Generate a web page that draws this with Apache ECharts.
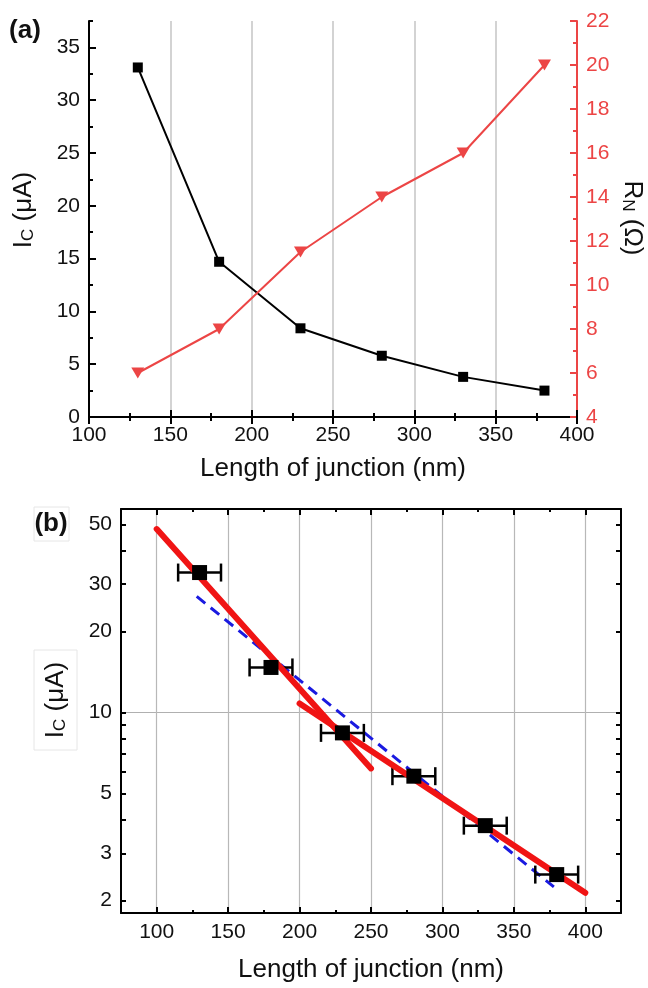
<!DOCTYPE html>
<html><head><meta charset="utf-8">
<script src="https://cdn.jsdelivr.net/npm/echarts@6/dist/echarts.min.js"></script>
<style>html,body{margin:0;padding:0;background:#fff}#c{width:648px;height:988px}</style>
</head><body><div id="c"></div>
<script>
// ---- data ----
const lengths = [130, 180, 230, 280, 330, 380];
const icValues = [33.1, 14.7, 8.4, 5.8, 3.8, 2.5];
const rnValues = [6, 8, 11.5, 14, 16, 20];
const lengthErr = [15, 15, 15, 15, 15, 15];
const fitShortX = [100, 250], fitShortY = [48, 6.2];
const fitLongX = [200, 400], fitLongY = [10.8, 2.14];
const fitDashX = [128, 378], fitDashY = [27, 2.25];
// ---- tick labels ----
const icTicksTop = [0, 5, 10, 15, 20, 25, 30, 35];
const icMinorTop = [2.5, 7.5, 12.5, 17.5, 22.5, 27.5, 32.5, 37.5];
const xTicksBottom = [100, 150, 200, 250, 300, 350, 400];
const xMinorBottom = [125, 175, 225, 275, 325, 375];
const logLabels = [2, 3, 5, 10, 20, 30, 50];
const logTicks = [2, 3, 4, 5, 6, 7, 8, 9, 10, 20, 30, 40, 50];
const logGrid = [10];

const FONT = "'Liberation Sans', Arial, sans-serif";
const RED = '#ec4545';
const zip = (a, b) => a.map((v, i) => [v, b[i]]);

const chart = echarts.init(document.getElementById('c'), null, {renderer: 'canvas'});
const blackLine = {show: true, lineStyle: {color: '#000', width: 2}};
const lbl = {fontFamily: FONT, fontSize: 21, color: '#111'};

const option = {
  backgroundColor: '#fff',
  animation: false,
  grid: [
    {left: 89, top: 21, width: 488, height: 396, show: false},
    {left: 121, top: 509, width: 500, height: 404, show: false}
  ],
  xAxis: [
    {gridIndex: 0, type: 'value', min: 100, max: 400, interval: 50, position: 'bottom',
     axisLine: blackLine, axisTick: {inside: true, length: 7, lineStyle: {color: '#000', width: 2}},
     minorTick: {show: true, splitNumber: 2, length: 4, lineStyle: {color: '#000', width: 2}},
     axisLabel: Object.assign({margin: 8}, lbl),
     splitLine: {show: true, lineStyle: {color: '#c4c4c4', width: 1.5}}},
    {gridIndex: 0, type: 'value', min: 100, max: 400, interval: 50, position: 'top',
     axisLine: blackLine, axisTick: {inside: true, length: 7, lineStyle: {color: '#000', width: 2}},
     minorTick: {show: true, splitNumber: 2, length: 4, lineStyle: {color: '#000', width: 2}},
     axisLabel: {show: false}, splitLine: {show: false}},
    {gridIndex: 1, type: 'value', min: 75, max: 425, position: 'bottom',
     axisLine: blackLine,
     axisTick: {inside: true, length: 6, customValues: xTicksBottom, lineStyle: {color: '#000', width: 2}},
     axisLabel: Object.assign({margin: 9, customValues: xTicksBottom}, lbl),
     splitLine: {show: true, lineStyle: {color: '#b8b8b8', width: 1.2}}},
    {gridIndex: 1, type: 'value', min: 75, max: 425, position: 'bottom',
     axisLine: {show: false},
     axisTick: {inside: true, length: 3, customValues: xMinorBottom, lineStyle: {color: '#000', width: 2}},
     axisLabel: {show: false}, splitLine: {show: false}},
    {gridIndex: 1, type: 'value', min: 75, max: 425, position: 'top',
     axisLine: blackLine,
     axisTick: {inside: true, length: 6, customValues: xTicksBottom, lineStyle: {color: '#000', width: 2}},
     axisLabel: {show: false}, splitLine: {show: false}},
    {gridIndex: 1, type: 'value', min: 75, max: 425, position: 'top',
     axisLine: {show: false},
     axisTick: {inside: true, length: 3, customValues: xMinorBottom, lineStyle: {color: '#000', width: 2}},
     axisLabel: {show: false}, splitLine: {show: false}}
  ],
  yAxis: [
    {gridIndex: 0, type: 'value', min: 0, max: 37.5, position: 'left',
     axisLine: blackLine,
     axisTick: {inside: true, length: 7, customValues: icTicksTop, lineStyle: {color: '#000', width: 2}},
     axisLabel: Object.assign({margin: 9, customValues: icTicksTop}, lbl),
     splitLine: {show: false}},
    {gridIndex: 0, type: 'value', min: 0, max: 37.5, position: 'left',
     axisLine: {show: false},
     axisTick: {inside: true, length: 4, customValues: icMinorTop, lineStyle: {color: '#000', width: 2}},
     axisLabel: {show: false}, splitLine: {show: false}},
    {gridIndex: 0, type: 'value', min: 4, max: 22, interval: 2, position: 'right',
     axisLine: {show: true, lineStyle: {color: RED, width: 2}},
     axisTick: {inside: true, length: 7, lineStyle: {color: RED, width: 2}},
     minorTick: {show: true, splitNumber: 2, length: 4, lineStyle: {color: RED, width: 2}},
     axisLabel: {margin: 9, fontFamily: FONT, fontSize: 21, color: RED},
     splitLine: {show: false}},
    {gridIndex: 1, type: 'log', logBase: 10, min: 1.8, max: 57, position: 'left',
     axisLine: blackLine,
     axisTick: {inside: true, length: 5, customValues: logTicks, lineStyle: {color: '#000', width: 2}},
     axisLabel: Object.assign({margin: 9, customValues: logLabels}, lbl),
     splitLine: {show: false}},
    {gridIndex: 1, type: 'log', logBase: 10, min: 1.8, max: 57, position: 'right',
     axisLine: blackLine,
     axisTick: {inside: true, length: 5, customValues: logTicks, lineStyle: {color: '#000', width: 2}},
     axisLabel: {show: false}, splitLine: {show: false}},
    {gridIndex: 1, type: 'log', logBase: 10, min: 1.8, max: 57, position: 'left',
     axisLine: {show: false},
     axisTick: {show: false, customValues: logGrid},
     axisLabel: {show: false},
     splitLine: {show: true, lineStyle: {color: '#b0b0b0', width: 1.2}}}
  ],
  series: [
    {type: 'line', xAxisIndex: 0, yAxisIndex: 0, data: zip(lengths, icValues),
     symbol: 'rect', symbolSize: 10, itemStyle: {color: '#000', opacity: 1},
     lineStyle: {color: '#000', width: 2}, z: 3},
    {type: 'line', xAxisIndex: 0, yAxisIndex: 2, data: zip(lengths, rnValues),
     symbol: 'triangle', symbolRotate: 180, symbolSize: [13, 11], itemStyle: {color: RED, opacity: 1},
     lineStyle: {color: RED, width: 2}, z: 3},
    {type: 'line', xAxisIndex: 2, yAxisIndex: 3, data: zip(fitDashX, fitDashY),
     symbol: 'none', lineStyle: {color: '#1a1ae0', width: 3, type: [11, 7]}, z: 2},
    {type: 'custom', xAxisIndex: 2, yAxisIndex: 3,
     data: lengths.map((x, i) => [x, icValues[i], lengthErr[i]]),
     encode: {x: 0, y: 1},
     renderItem: function (params, api) {
       const x = api.value(0), y = api.value(1), e = api.value(2);
       const p1 = api.coord([x - e, y]), p2 = api.coord([x + e, y]);
       const h = 9, st = {stroke: '#000', lineWidth: 2.5};
       return {type: 'group', children: [
         {type: 'line', shape: {x1: p1[0], y1: p1[1], x2: p2[0], y2: p2[1]}, style: st},
         {type: 'line', shape: {x1: p1[0], y1: p1[1] - h, x2: p1[0], y2: p1[1] + h}, style: st},
         {type: 'line', shape: {x1: p2[0], y1: p2[1] - h, x2: p2[0], y2: p2[1] + h}, style: st}
       ]};
     }, z: 3},
    {type: 'line', xAxisIndex: 2, yAxisIndex: 3, data: zip(fitShortX, fitShortY),
     symbol: 'none', lineStyle: {color: '#f01414', width: 6, cap: 'round'}, z: 4},
    {type: 'line', xAxisIndex: 2, yAxisIndex: 3, data: zip(fitLongX, fitLongY),
     symbol: 'none', lineStyle: {color: '#f01414', width: 6, cap: 'round'}, z: 4},
    {type: 'scatter', xAxisIndex: 2, yAxisIndex: 3, data: zip(lengths, icValues),
     symbol: 'rect', symbolSize: 15, itemStyle: {color: '#000', opacity: 1}, z: 5}
  ],
  graphic: [
    {type: 'text', x: 25, y: 31, style: {text: '(a)', font: 'bold 26px ' + FONT, fill: '#111', align: 'center', verticalAlign: 'middle'}},
    {type: 'rect', shape: {x: 34, y: 507, width: 35, height: 34}, style: {fill: 'none', stroke: '#e6e6e6', lineWidth: 1}},
    {type: 'text', x: 51, y: 524, style: {text: '(b)', font: 'bold 26px ' + FONT, fill: '#111', align: 'center', verticalAlign: 'middle'}},
    {type: 'text', x: 22, y: 210, rotation: Math.PI / 2,
     style: {text: '{n|I}{s|C}{n| (μA)}', align: 'center', verticalAlign: 'middle', fill: '#111',
       rich: {n: {fontFamily: FONT, fontSize: 26, lineHeight: 30, verticalAlign: 'bottom'},
              s: {fontFamily: FONT, fontSize: 17, lineHeight: 14, verticalAlign: 'bottom'}}}},
    {type: 'text', x: 634, y: 218, rotation: -Math.PI / 2,
     style: {text: '{n|R}{s|N}{n| (Ω)}', align: 'center', verticalAlign: 'middle', fill: '#111',
       rich: {n: {fontFamily: FONT, fontSize: 26, lineHeight: 30, verticalAlign: 'bottom'},
              s: {fontFamily: FONT, fontSize: 17, lineHeight: 14, verticalAlign: 'bottom'}}}},
    {type: 'text', x: 333, y: 469, style: {text: 'Length of junction (nm)', font: '26px ' + FONT, fill: '#111', align: 'center', verticalAlign: 'middle'}},
    {type: 'rect', shape: {x: 34, y: 650, width: 43, height: 100}, style: {fill: 'none', stroke: '#e6e6e6', lineWidth: 1}},
    {type: 'text', x: 54, y: 700, rotation: Math.PI / 2,
     style: {text: '{n|I}{s|C}{n| (μA)}', align: 'center', verticalAlign: 'middle', fill: '#111',
       rich: {n: {fontFamily: FONT, fontSize: 26, lineHeight: 30, verticalAlign: 'bottom'},
              s: {fontFamily: FONT, fontSize: 17, lineHeight: 14, verticalAlign: 'bottom'}}}},
    {type: 'text', x: 371, y: 970, style: {text: 'Length of junction (nm)', font: '26px ' + FONT, fill: '#111', align: 'center', verticalAlign: 'middle'}}
  ]
};
chart.setOption(option);
</script>
</body></html>
